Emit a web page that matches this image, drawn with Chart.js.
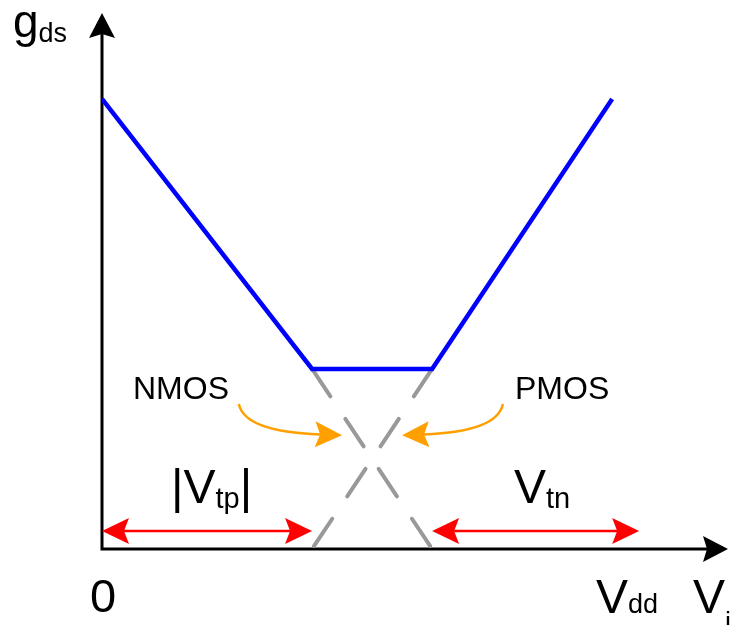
<!DOCTYPE html>
<html>
<head>
<meta charset="utf-8">
<script src="https://cdn.jsdelivr.net/npm/chart.js@4.4.0/dist/chart.umd.min.js"></script>
<style>
  html, body { margin: 0; padding: 0; background: #fff; }
</style>
</head>
<body>
<canvas id="myChart" width="737" height="625"></canvas>
<script>
// gds vs Vi: PMOS branch falls, plateau, NMOS branch rises
const viPoints = [0, 3.5, 5.5, 8.5];
const gdsPoints = [10, 4, 4, 10];
// single-device branches continued down to zero (dashed)
const nmosVi = [3.5, 5.5];
const nmosGds = [4, 0];
const pmosVi = [5.5, 3.5];
const pmosGds = [4, 0];
// threshold spans measured along the Vi axis
const vtpSpan = [0, 3.5];
const vtnSpan = [5.5, 8.95];
const spanLevel = 0.4;
// curved pointers: start, control, tip (Vi, gds)
const nmosPointer = [[2.28, 3.22], [2.38, 2.6], [4.0, 2.53]];
const pmosPointer = [[6.68, 3.22], [6.58, 2.6], [5.0, 2.53]];
const viMax = 10.43;
const gdsMax = 11.91;

const FONT = '"Liberation Sans", Arial, sans-serif';

function toXY(xs, ys) {
  return xs.map((v, i) => ({ x: v, y: ys[i] }));
}

// notched arrow head with its tip at (tx, ty) pointing along angle a
function arrowHead(c, tx, ty, a, color, len = 26, half = 13, notch = 6) {
  const dx = Math.cos(a), dy = Math.sin(a);
  const px = -dy, py = dx;
  c.save();
  c.fillStyle = color;
  c.beginPath();
  c.moveTo(tx, ty);
  c.lineTo(tx - len * dx + half * px, ty - len * dy + half * py);
  c.lineTo(tx - (len - notch) * dx, ty - (len - notch) * dy);
  c.lineTo(tx - len * dx - half * px, ty - len * dy - half * py);
  c.closePath();
  c.fill();
  c.restore();
  return [tx - (len - notch) * dx, ty - (len - notch) * dy];
}

function label(c, main, sub, x, y, mainSize, subSize, subDy, tail) {
  c.font = mainSize + 'px ' + FONT;
  c.fillText(main, x, y);
  let cx = x + c.measureText(main).width;
  c.font = subSize + 'px ' + FONT;
  c.fillText(sub, cx, y + subDy);
  cx += c.measureText(sub).width;
  if (tail) {
    c.font = mainSize + 'px ' + FONT;
    c.fillText(tail, cx, y);
  }
}

const axesPlugin = {
  id: 'axes',
  beforeDatasetsDraw(chart) {
    const c = chart.ctx;
    const xs = chart.scales.x, ys = chart.scales.y;
    const x0 = xs.getPixelForValue(0), y0 = ys.getPixelForValue(0);
    const xEnd = xs.getPixelForValue(viMax), yEnd = ys.getPixelForValue(gdsMax);
    c.save();
    c.strokeStyle = '#000';
    c.lineWidth = 3;
    const [bx] = arrowHead(c, xEnd, y0, 0, '#000', 25, 13, 4);
    const [, by] = arrowHead(c, x0, yEnd, -Math.PI / 2, '#000', 25, 13, 4);
    c.beginPath();
    c.moveTo(x0, by);
    c.lineTo(x0, y0);
    c.lineTo(bx, y0);
    c.stroke();
    c.restore();
  }
};

const notesPlugin = {
  id: 'notes',
  afterDatasetsDraw(chart) {
    const c = chart.ctx;
    const xs = chart.scales.x, ys = chart.scales.y;
    const px = v => xs.getPixelForValue(v);
    const py = v => ys.getPixelForValue(v);

    // threshold spans
    [vtpSpan, vtnSpan].forEach(s => {
      const y = py(spanLevel);
      const [lx] = arrowHead(c, px(s[0]), y, Math.PI, '#ff0000', 27, 13, 5);
      const [rx] = arrowHead(c, px(s[1]), y, 0, '#ff0000', 27, 13, 5);
      c.save();
      c.strokeStyle = '#ff0000';
      c.lineWidth = 2.5;
      c.beginPath();
      c.moveTo(lx, y);
      c.lineTo(rx, y);
      c.stroke();
      c.restore();
    });

    // curved pointers to the dashed branches
    [nmosPointer, pmosPointer].forEach(p => {
      const s = [px(p[0][0]), py(p[0][1])];
      const k = [px(p[1][0]), py(p[1][1])];
      const t = [px(p[2][0]), py(p[2][1])];
      const a = Math.atan2(t[1] - k[1], t[0] - k[0]);
      const base = arrowHead(c, t[0], t[1], a, '#ffa000', 27, 13, 5);
      c.save();
      c.strokeStyle = '#ffa000';
      c.lineWidth = 2.5;
      c.beginPath();
      c.moveTo(s[0], s[1]);
      c.quadraticCurveTo(k[0], k[1], base[0], base[1]);
      c.stroke();
      c.restore();
    });

    // text
    c.save();
    c.fillStyle = '#000';
    c.textBaseline = 'alphabetic';
    c.textAlign = 'left';
    label(c, 'g', 'ds', 13, 37, 46, 27, 5);
    c.font = '47px ' + FONT;
    c.textAlign = 'center';
    c.fillText('0', px(0) + 1, 612);
    c.textAlign = 'left';
    label(c, 'V', 'dd', 596, 613, 48, 27, 0);
    label(c, 'V', 'i', 693, 613, 48, 27, 18);
    label(c, '|V', 'tp', 171, 503, 48, 29, 5, '|');
    label(c, 'V', 'tn', 514, 503, 48, 29, 5);
    c.font = '32px ' + FONT;
    c.fillText('NMOS', 133, 399);
    c.fillText('PMOS', 515, 399);
    c.restore();
  }
};

const ctx = document.getElementById('myChart');
const myChart = new Chart(ctx, {
  type: 'line',
  data: {
    datasets: [
      {
        data: toXY(viPoints, gdsPoints),
        borderColor: '#0000ff',
        borderWidth: 4.5,
        pointRadius: 0,
        tension: 0
      },
      {
        data: toXY(nmosVi, nmosGds),
        borderColor: '#999999',
        borderWidth: 4,
        borderDash: [33, 27],
        borderCapStyle: 'round',
        pointRadius: 0
      },
      {
        data: toXY(pmosVi, pmosGds),
        borderColor: '#999999',
        borderWidth: 4,
        borderDash: [33, 27],
        borderCapStyle: 'round',
        pointRadius: 0
      }
    ]
  },
  options: {
    responsive: false,
    devicePixelRatio: 1,
    animation: false,
    layout: { padding: { left: 102, right: 9, top: 13, bottom: 76 } },
    scales: {
      x: { type: 'linear', min: 0, max: viMax, display: false },
      y: { min: 0, max: gdsMax, display: false }
    },
    plugins: {
      legend: { display: false },
      tooltip: { enabled: false }
    }
  },
  plugins: [axesPlugin, notesPlugin]
});
</script>
</body>
</html>
